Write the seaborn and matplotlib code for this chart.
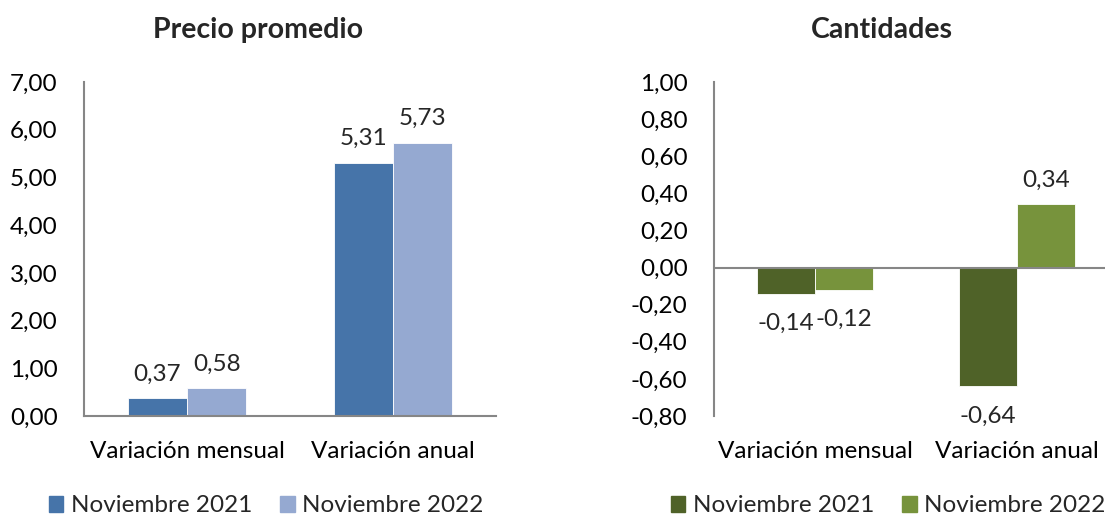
import matplotlib
matplotlib.use("Agg")
import matplotlib.pyplot as plt
import seaborn as sns
import pandas as pd
from matplotlib.ticker import FuncFormatter, MultipleLocator

categories = ["Variación mensual", "Variación anual"]
series = ["Noviembre 2021", "Noviembre 2022"]
precio_2021 = [0.37, 5.31]
precio_2022 = [0.58, 5.73]
cant_2021 = [-0.14, -0.64]
cant_2022 = [-0.12, 0.34]

sns.set_style("white")
FONT = ["Lato", "DejaVu Sans"]
plt.rcParams["font.family"] = FONT

def long_df(a, b):
    rows = []
    for c, va, vb in zip(categories, a, b):
        rows.append({"cat": c, "serie": series[0], "val": va})
        rows.append({"cat": c, "serie": series[1], "val": vb})
    return pd.DataFrame(rows)

fmt = FuncFormatter(lambda v, p: f"{v:.2f}".replace(".", ","))
GRAY = "#868686"
FS = 17.5

fig = plt.figure(figsize=(11.05, 5.15), dpi=100)
axL = fig.add_axes([84/1105, 99/515, 412/1105, 334/515])
axR = fig.add_axes([714/1105, 99/515, 404/1105, 334/515])

def draw(ax, a, b, colors, ylim, step, zero_line):
    df = long_df(a, b)
    sns.barplot(data=df, x="cat", y="val", hue="serie", palette=colors, saturation=1,
                width=0.575, ax=ax, legend=False, edgecolor="white", linewidth=0.6)
    ax.set_ylim(*ylim)
    ax.set_xlim(-0.5, 1.5)
    ax.yaxis.set_major_locator(MultipleLocator(step))
    ax.yaxis.set_major_formatter(fmt)
    ax.set_xlabel("")
    ax.set_ylabel("")
    for s in ["top", "right"]:
        ax.spines[s].set_visible(False)
    ax.spines["left"].set_color(GRAY)
    ax.spines["left"].set_linewidth(1.5)
    if zero_line:
        ax.spines["bottom"].set_visible(False)
        ax.axhline(0, color=GRAY, linewidth=1.5, zorder=3)
    else:
        ax.spines["bottom"].set_color(GRAY)
        ax.spines["bottom"].set_linewidth(1.5)
    ax.tick_params(axis="both", length=0, labelsize=FS, colors="black")
    ax.tick_params(axis="y", pad=19)
    ax.tick_params(axis="x", pad=18)
    for container in ax.containers:
        for bar in container:
            h = bar.get_height()
            x = bar.get_x() + bar.get_width() / 2
            lbl = f"{h:.2f}".replace(".", ",")
            if h >= 0:
                ax.annotate(lbl, (x, h), xytext=(0, 10), textcoords="offset points",
                            ha="center", va="bottom", fontsize=FS)
            else:
                ax.annotate(lbl, (x, h), xytext=(0, -14), textcoords="offset points",
                            ha="center", va="top", fontsize=FS)
    handles = [plt.Rectangle((0, 0), 1, 1, color=c) for c in colors]
    return handles

hL = draw(axL, precio_2021, precio_2022, ["#4674A9", "#95A9D1"], (0, 7), 1, False)
hR = draw(axR, cant_2021, cant_2022, ["#4F6228", "#77933C"], (-0.8, 1.0), 0.2, True)

fig.text(258/1105, 1 - 30/515, "Precio promedio", ha="center", va="center",
         fontsize=20.5, fontweight="bold")
fig.text(882/1105, 1 - 30/515, "Cantidades", ha="center", va="center",
         fontsize=20.5, fontweight="bold")

legkw = dict(loc="center", ncol=2, frameon=False, fontsize=FS, handlelength=0.6,
             handleheight=0.6, handletextpad=0.3, columnspacing=1.15, borderaxespad=0)
fig.legend(hL, series, bbox_to_anchor=(266/1105, 1 - 506/515), **legkw)
fig.legend(hR, series, bbox_to_anchor=(888/1105, 1 - 506/515), **legkw)

fig.savefig("out.png", dpi=100)
